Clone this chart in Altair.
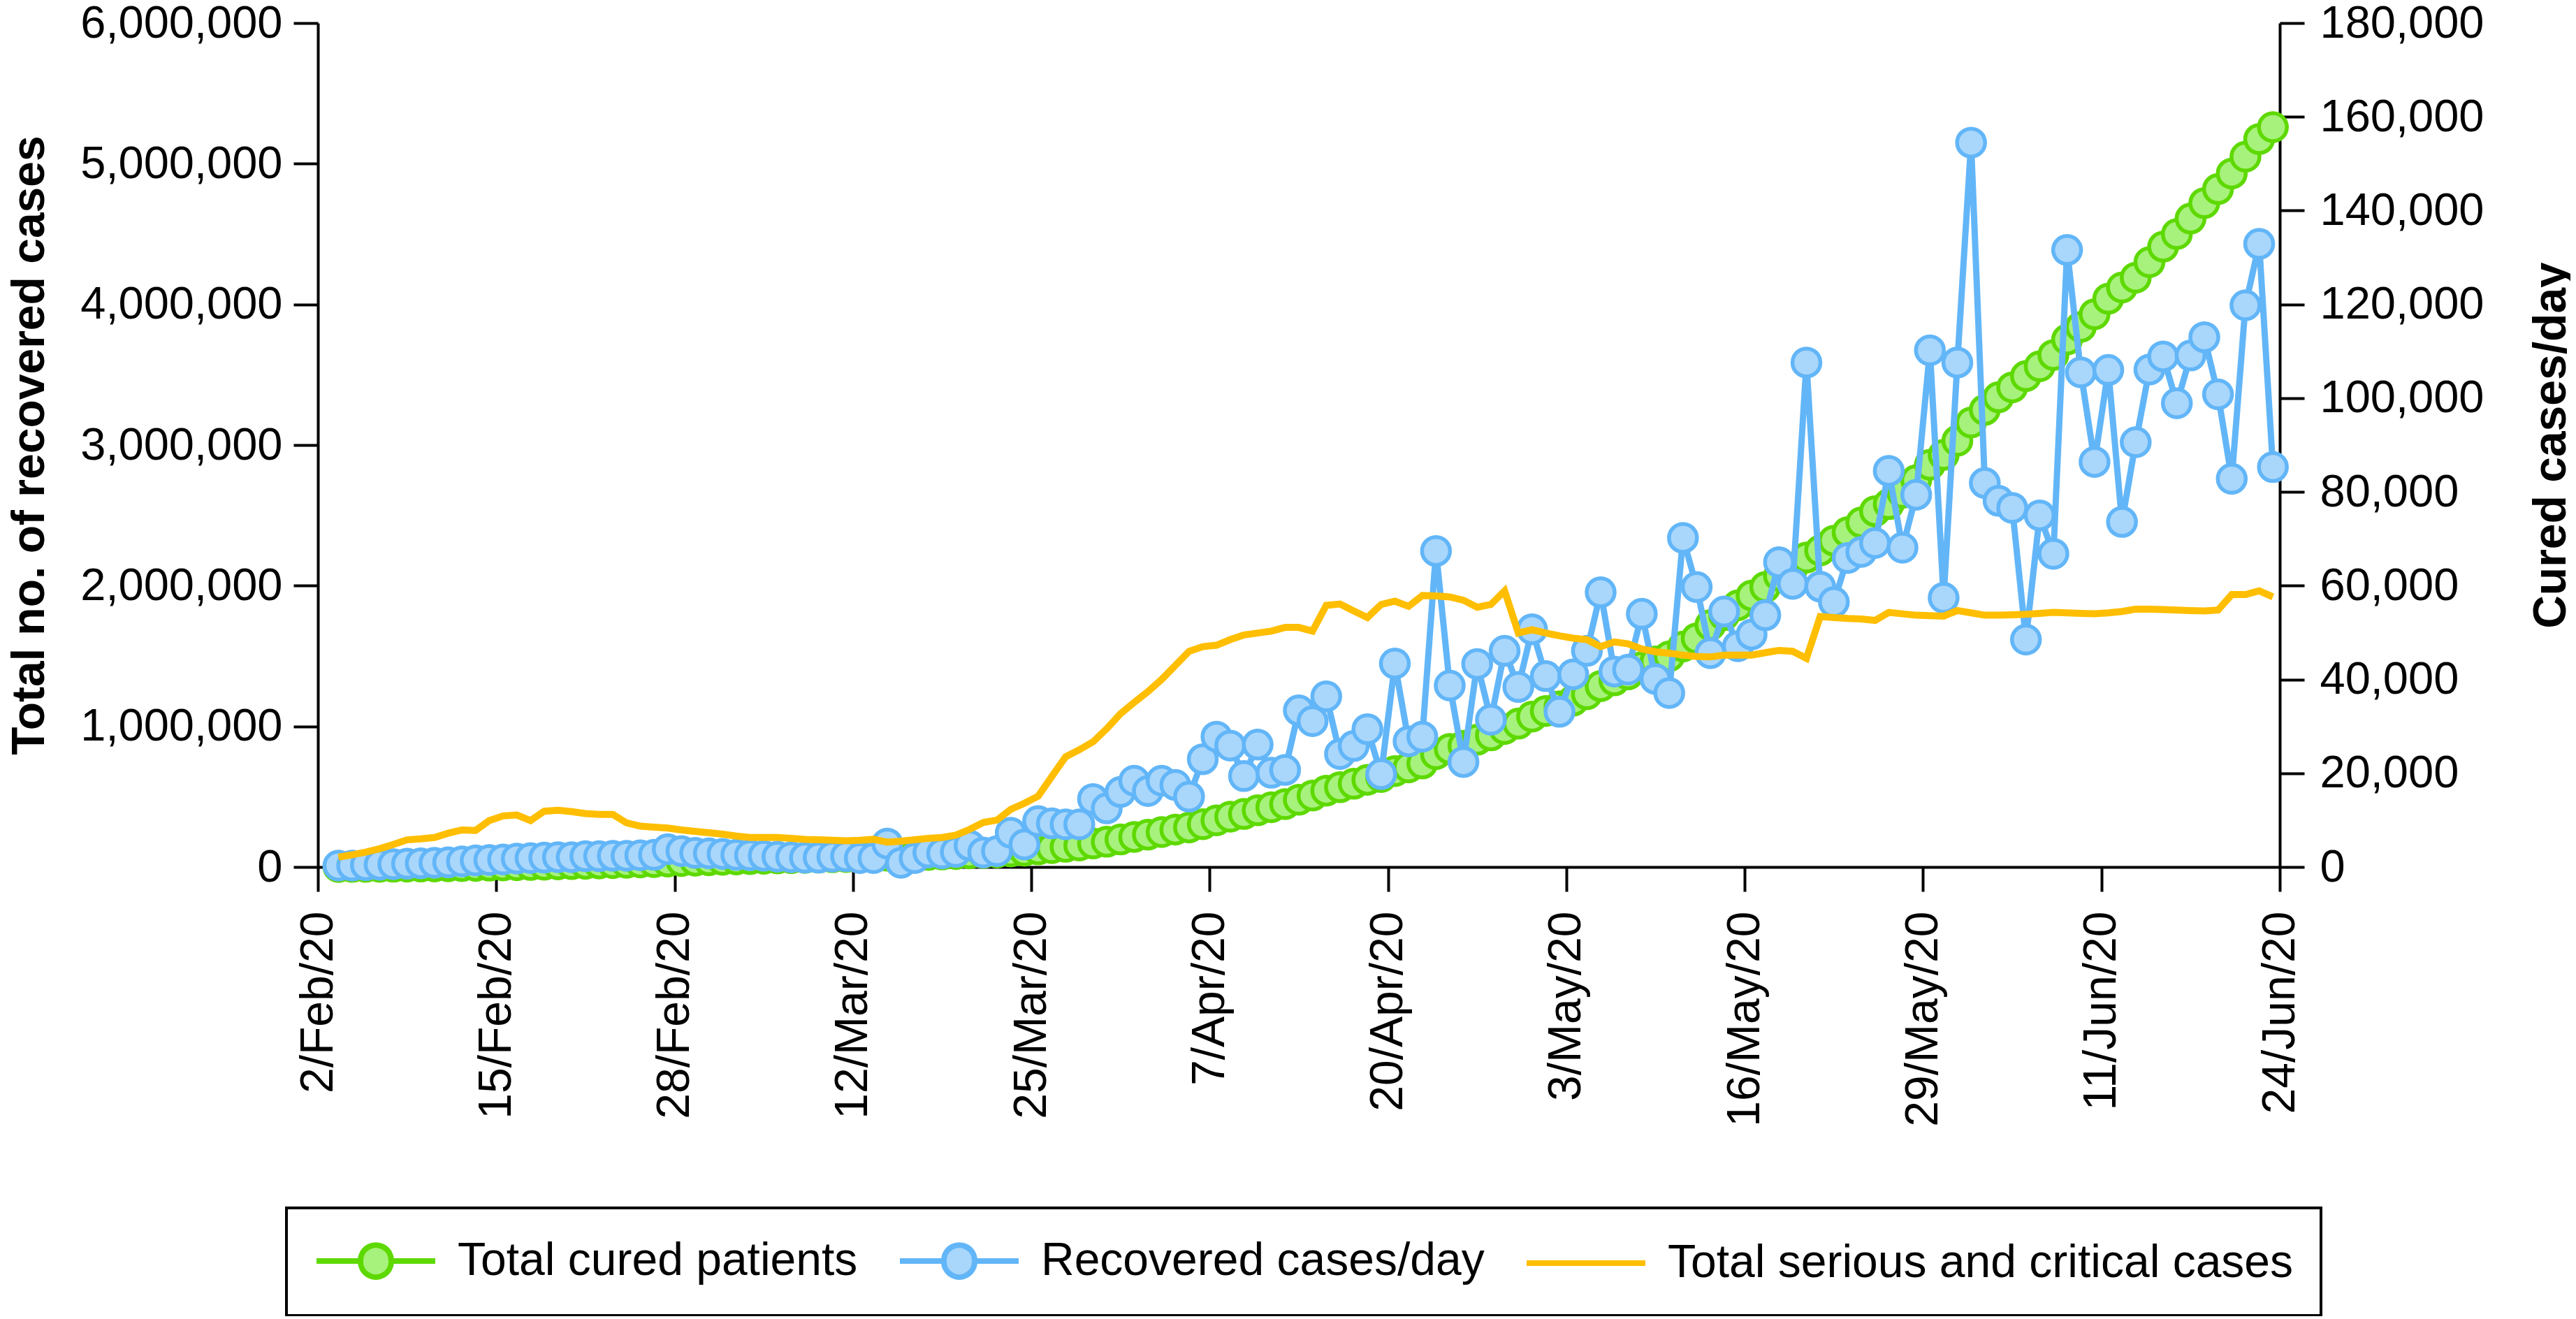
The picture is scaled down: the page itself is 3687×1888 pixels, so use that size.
import altair as alt
import pandas as pd

FONT = "Liberation Sans"

series_names = ["Total cured patients", "Recovered cases/day", "Total serious and critical cases"]
stroke_colors = ["#5ed900", "#62b6f8", "#ffbe00"]
fill_green = "#a6f27c"
fill_blue = "#a9d6fb"

# one value per day, 3 Feb 2020 ... 23 Jun 2020
dates = [d.strftime("%Y-%m-%dT%H:%M:%SZ")
         for d in pd.date_range("2020-02-03 12:00", periods=142, freq="D", tz="UTC")]

total_cured = [
    600, 900, 1200, 1600, 2100, 2700, 3400, 4300, 5300, 6500,
    7900, 9400, 11000, 12700, 14500, 16400, 18500, 20600, 22900, 25200,
    27600, 30000, 32500, 35100, 38900, 42300, 45300, 48200, 51000, 53600,
    56100, 58500, 60700, 62800, 64800, 66800, 69000, 71300, 73200, 75100,
    80100, 81000, 82900, 86000, 88900, 92100, 96700, 99800, 103200, 110500,
    115300, 125100, 134400, 143500, 152600, 167100, 179600, 195600, 214000, 230200,
    248600, 266100, 281100, 304100, 331900, 357800, 377200, 403300, 425000, 447000,
    478000, 508000, 543000, 567000, 592000, 620000, 640000, 682000, 708000, 736000,
    802000, 840000, 862000, 905000, 936000, 981000, 1019000, 1069000, 1109000, 1142000,
    1183000, 1228000, 1286000, 1327000, 1369000, 1422000, 1462000, 1498000, 1567000, 1626000,
    1720000, 1790000, 1860000, 1930000, 1990000, 2070000, 2130000, 2200000, 2250000, 2320000,
    2380000, 2450000, 2530000, 2580000, 2660000, 2750000, 2860000, 2930000, 3030000, 3160000,
    3250000, 3340000, 3410000, 3490000, 3560000, 3640000, 3750000, 3840000, 3930000, 4040000,
    4120000, 4190000, 4300000, 4410000, 4500000, 4610000, 4720000, 4820000, 4930000, 5050000,
    5175000, 5260000,
]

recovered_per_day = [
    300, 300, 400, 500, 600, 700, 800, 900, 1000, 1200,
    1400, 1500, 1600, 1800, 1900, 2000, 2100, 2100, 2300, 2300,
    2400, 2400, 2500, 2600, 3800, 3400, 3000, 2900, 2800, 2600,
    2500, 2400, 2200, 2100, 2000, 2000, 2200, 2300, 1900, 1900,
    5000, 900, 1900, 3100, 2900, 3200, 4600, 3100, 3400, 7300,
    4800, 9800, 9300, 9100, 9100, 14500, 12500, 16000, 18400, 16200,
    18400, 17500, 15000, 23000, 27800, 25900, 19400, 26100, 20100, 20700,
    33400, 31100, 36400, 24100, 25800, 29400, 19800, 43400, 26800, 27800,
    67400, 38700, 22400, 43300, 31400, 46100, 38400, 50700, 40700, 33100,
    41100, 46100, 58600, 41700, 42100, 54000, 40100, 37100, 70200, 59700,
    45600, 54500, 47100, 49600, 53700, 65000, 60400, 107600, 59800, 56500,
    65900, 67200, 69100, 84500, 68100, 79400, 110200, 57400, 107600, 154500,
    81900, 78100, 76600, 48500, 75000, 66800, 131600, 105500, 86400, 106000,
    73600, 90600, 106100, 108900, 98900, 109100, 113000, 100800, 82800, 119800,
    132900, 85300,
]

serious_critical = [
    2100, 2600, 3200, 3900, 4800, 5800, 6000, 6300, 7200, 7900,
    7800, 9900, 10900, 11100, 9900, 11900, 12100, 11800, 11400, 11200,
    11200, 9400, 8700, 8500, 8300, 7900, 7600, 7300, 7000, 6600,
    6300, 6300, 6300, 6100, 5900, 5800, 5700, 5600, 5700, 5900,
    5300, 5500, 5800, 6100, 6300, 6800, 8000, 9500, 10000, 12300,
    13600, 15100, 19300, 23500, 25000, 26700, 29500, 32700, 35100, 37400,
    40000, 43000, 46000, 47000, 47300, 48500, 49500, 49900, 50300, 51100,
    51100, 50300, 55800, 56100, 54600, 53200, 56000, 56700, 55600, 57900,
    57800, 57600, 56900, 55400, 56000, 58900, 49900, 50600, 49900, 49300,
    48800, 48500, 47000, 48000, 47600, 46500, 45900, 45600, 45200, 44900,
    44800, 45200, 45200, 45200, 45700, 46200, 46000, 44500, 53400, 53200,
    53000, 52900, 52600, 54300, 54000, 53700, 53600, 53500, 54700, 54200,
    53700, 53700, 53800, 53900, 54100, 54300, 54200, 54100, 54000, 54200,
    54500, 55000, 55000, 54900, 54800, 54700, 54600, 54800, 58100, 58100,
    58900, 57600,
]

left_ticks = [0, 1000000, 2000000, 3000000, 4000000, 5000000, 6000000]
right_ticks = [0, 20000, 40000, 60000, 80000, 100000, 120000, 140000, 160000, 180000]
x_tick_dates = pd.date_range("2020-02-02", "2020-06-24", freq="13D", tz="UTC")
x_ticks = [int(t.timestamp() * 1000) for t in x_tick_dates]
x_domain = [int(pd.Timestamp("2020-02-02", tz="UTC").timestamp() * 1000),
            int(pd.Timestamp("2020-06-24", tz="UTC").timestamp() * 1000)]

green_df = pd.DataFrame({"date": dates, "value": total_cured, "series": series_names[0]})
blue_df = pd.DataFrame({"date": dates, "value": recovered_per_day, "series": series_names[1]})
orange_df = pd.DataFrame({"date": dates, "value": serious_critical, "series": series_names[2]})

common_axis = dict(
    labelFont=FONT, labelColor="black", labelLimit=2000,
    tickSize=35, tickWidth=4, tickColor="black",
    domainColor="black", domainWidth=4, grid=False,
)

x_enc = alt.X(
    "date:T",
    scale=alt.Scale(type="utc", domain=x_domain),
    axis=alt.Axis(
        values=x_ticks,
        labelExpr="utcFormat(datum.value, '%-d/%b/%y')",
        labelAngle=270, labelPadding=28, labelOverlap=False, labelFlush=False,
        labelFontSize=66, title=None, **common_axis,
    ),
)

y_left = alt.Y(
    "value:Q",
    scale=alt.Scale(domain=[0, 6000000], nice=False, zero=True),
    axis=alt.Axis(
        values=left_ticks, labelExpr="format(datum.value, ',.0f')", orient="left",
        labelPadding=16, labelFontSize=65,
        title="Total no. of recovered cases", titleFont=FONT, titleFontSize=66,
        titleFontWeight="bold", titleColor="black", titleAngle=270, titleLimit=3000,
        titleX=-393, titleY=604, titleAlign="center", titleBaseline="alphabetic",
        **common_axis,
    ),
)

right_axis = alt.Axis(
    values=right_ticks, labelExpr="format(datum.value, ',.0f')", orient="right",
    labelPadding=22, labelFontSize=65,
    title="Cured cases/day", titleFont=FONT, titleFontSize=66,
    titleFontWeight="bold", titleColor="black", titleAngle=270, titleLimit=3000,
    titleX=408, titleY=604, titleAlign="center", titleBaseline="alphabetic",
    **common_axis,
)
y_right = alt.Y("value:Q", scale=alt.Scale(domain=[0, 180000], nice=False, zero=True), axis=right_axis)

PATH_DOT = ("M-1,0L0.909,0M2.242,0L4.152,0M2.242,0"
            "A0.667,0.667,0,1,1,0.909,0A0.667,0.667,0,1,1,2.242,0")
PATH_LINE = "M-1,0L4.152,0"

shape_expr = "datum.value === '%s' ? '%s' : '%s'" % (series_names[2], PATH_LINE, PATH_DOT)
fill_expr = ("datum.value === '%s' ? '%s' : (datum.value === '%s' ? '%s' : 'transparent')"
             % (series_names[0], fill_green, series_names[1], fill_blue))

legend = alt.Legend(
    title=None, orient="none", legendX=-45, legendY=1696, direction="horizontal",
    labelFont=FONT, labelFontSize=66, labelColor="black", labelLimit=0,
    symbolType={"expr": shape_expr}, symbolFillColor={"expr": fill_expr},
    symbolSize=4356, symbolStrokeWidth=8, symbolOpacity=1,
    labelOffset=132, columnPadding=44, padding=39,
    strokeColor="black", fillColor="white",
)

color_enc = alt.Color(
    "series:N",
    scale=alt.Scale(domain=series_names, range=stroke_colors),
    legend=legend,
)

green_line = alt.Chart(green_df).mark_line(strokeWidth=8).encode(x=x_enc, y=y_left, color=color_enc)
green_pts = alt.Chart(green_df).mark_circle(
    size=1600, fill=fill_green, stroke=stroke_colors[0], strokeWidth=5.5, opacity=1
).encode(x=x_enc, y=y_left)

blue_line = alt.Chart(blue_df).mark_line(strokeWidth=9).encode(x=x_enc, y=y_right, color=color_enc)
blue_pts = alt.Chart(blue_df).mark_circle(
    size=1600, fill=fill_blue, stroke=stroke_colors[1], strokeWidth=5.5, opacity=1
).encode(x=x_enc, y=y_right)
orange_line = alt.Chart(orange_df).mark_line(strokeWidth=10).encode(x=x_enc, y=y_right, color=color_enc)

left_layer = alt.layer(green_line, green_pts)
right_layer = alt.layer(blue_line, blue_pts, orange_line)

chart = (
    alt.layer(left_layer, right_layer)
    .resolve_scale(y="independent")
    .properties(
        width=2808, height=1208,
        padding={"left": 447, "top": 25, "right": 416, "bottom": 643},
        autosize=alt.AutoSizeParams(type="none"),
        background="white",
    )
    .configure_view(stroke=None)
    .configure_legend(strokeWidth=4)
)

chart.save("out.html", embed_options={"renderer": "svg", "actions": False})
